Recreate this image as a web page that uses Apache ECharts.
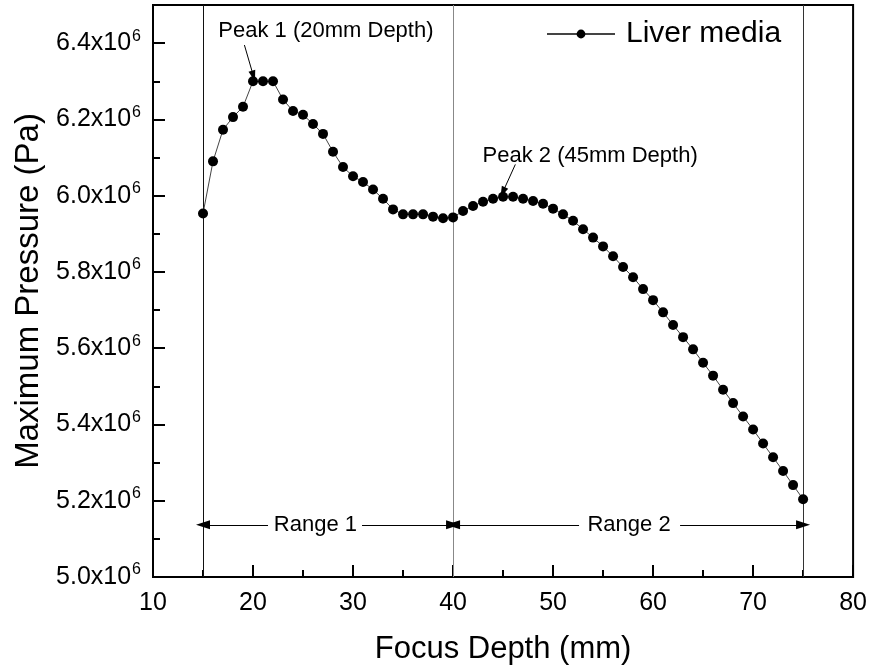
<!DOCTYPE html>
<html>
<head>
<meta charset="utf-8">
<script src="https://cdn.jsdelivr.net/npm/echarts@6/dist/echarts.min.js"></script>
<style>html,body{margin:0;padding:0;background:#fff}#c{width:870px;height:670px}</style>
</head>
<body>
<div id="c"></div>
<script>
// Focus depth (mm)
const depth = [15,16,17,18,19,20,21,22,23,24,25,26,27,28,29,30,31,32,33,34,35,36,37,38,39,40,
  41,42,43,44,45,46,47,48,49,50,51,52,53,54,55,56,57,58,59,60,61,62,63,64,65,66,67,68,69,70,
  71,72,73,74,75];
// Maximum pressure (x10^6 Pa)
const pressure = [5.953,6.090,6.173,6.206,6.233,6.300,6.300,6.300,6.252,6.222,6.212,6.188,6.162,6.115,
  6.075,6.051,6.036,6.016,5.992,5.964,5.951,5.951,5.951,5.945,5.941,5.943,5.960,5.973,5.984,5.992,
  5.997,5.997,5.992,5.986,5.979,5.966,5.951,5.934,5.912,5.890,5.867,5.841,5.813,5.786,5.755,5.726,
  5.694,5.661,5.629,5.597,5.562,5.528,5.491,5.456,5.421,5.387,5.350,5.314,5.278,5.241,5.204];
const seriesName = 'Liver media';
const xTicks = [10,20,30,40,50,60,70,80];
const yTicks = [5.0,5.2,5.4,5.6,5.8,6.0,6.2,6.4];
const rangeBounds = [15,40,75];
const rangeNames = ['Range 1','Range 2'];
const peakNames = ['Peak 1 (20mm Depth)','Peak 2 (45mm Depth)'];

const FONT = 'Liberation Sans';
const chart = echarts.init(document.getElementById('c'));

const rangeY = 5.137;
const thin = {color: '#000', width: 1, type: 'solid'};
const arrowSize = [9, 14];
const option = {
  backgroundColor: '#fff',
  animation: false,
  textStyle: {fontFamily: FONT, color: '#000'},
  grid: {left: 153, right: 15, top: 5, bottom: 91, show: true, borderColor: '#000', borderWidth: 2, backgroundColor: 'transparent'},
  legend: {
    data: [seriesName], left: 541, top: 14, itemWidth: 68, itemHeight: 11,
    textStyle: {fontSize: 30, fontFamily: FONT, color: '#000', padding: [0, 0, 0, 6]}
  },
  xAxis: [{
    type: 'value', min: 10, max: 80, interval: 10, position: 'bottom',
    name: 'Focus Depth (mm)', nameLocation: 'middle', nameGap: 57,
    nameTextStyle: {fontSize: 31, fontFamily: FONT, color: '#000'},
    axisLine: {show: true, lineStyle: {color: '#000', width: 2}},
    axisTick: {show: true, inside: true, length: 12, lineStyle: {color: '#000', width: 2}},
    axisLabel: {fontSize: 25, fontFamily: FONT, color: '#000', margin: 14,
      formatter: v => xTicks.includes(v) ? String(v) : ''},
    splitLine: {show: false}
  }, {
    type: 'value', min: 10, max: 80, interval: 5, position: 'bottom',
    axisLine: {show: false},
    axisTick: {show: true, inside: true, length: 7, lineStyle: {color: '#000', width: 2}},
    axisLabel: {show: false}, splitLine: {show: false}
  }],
  yAxis: [{
    type: 'value', min: 5.0, max: 6.5, interval: 0.2, position: 'left',
    name: 'Maximum Pressure (Pa)', nameLocation: 'middle', nameGap: 108,
    nameTextStyle: {fontSize: 33, fontFamily: FONT, color: '#000'},
    axisLine: {show: true, lineStyle: {color: '#000', width: 2}},
    axisTick: {show: true, inside: true, length: 12, lineStyle: {color: '#000', width: 2}},
    axisLabel: {
      margin: 12, fontFamily: FONT, color: '#000',
      formatter: v => {
        const t = yTicks.find(k => Math.abs(k - v) < 1e-6);
        return t === undefined ? '' : '{a|' + t.toFixed(1) + 'x10}{b|6}';
      },
      rich: {
        a: {fontSize: 25, fontFamily: FONT, color: '#000', lineHeight: 30},
        b: {fontSize: 16, fontFamily: FONT, color: '#000', verticalAlign: 'top', lineHeight: 16, padding: [0, 0, 0, 1]}
      }
    },
    splitLine: {show: false}
  }, {
    type: 'value', min: 5.0, max: 6.5, interval: 0.1, position: 'left',
    axisLine: {show: false},
    axisTick: {show: true, inside: true, length: 7, lineStyle: {color: '#000', width: 2}},
    axisLabel: {show: false}, splitLine: {show: false}
  }],
  series: [{
    name: seriesName, type: 'line',
    data: depth.map((d, i) => [d, pressure[i]]),
    symbol: 'circle', symbolSize: 10,
    itemStyle: {color: '#000'},
    lineStyle: {color: '#444', width: 1},
    z: 5
  }, {
    name: 'annot', type: 'line', data: [], silent: true,
    markLine: {
      silent: true, animation: false, symbol: ['none', 'none'],
      label: {show: false},
      data: [
        [{coord: [rangeBounds[0], 5.0], lineStyle: {color: '#111', width: 1, type: 'solid'}}, {coord: [rangeBounds[0], 6.5]}],
        [{coord: [rangeBounds[1], 5.0], lineStyle: {color: '#888', width: 1, type: 'solid'}}, {coord: [rangeBounds[1], 6.5]}],
        [{coord: [rangeBounds[2], 5.0], lineStyle: {color: '#333', width: 1, type: 'solid'}}, {coord: [rangeBounds[2], 6.5]}],
        // Range 1 arrows
        [{coord: [21.5, rangeY], symbol: 'none', lineStyle: thin}, {coord: [rangeBounds[0], rangeY], symbol: 'triangle', symbolSize: arrowSize}],
        [{coord: [30.9, rangeY], symbol: 'none', lineStyle: thin}, {coord: [rangeBounds[1], rangeY], symbol: 'triangle', symbolSize: arrowSize}],
        // Range 2 arrows
        [{coord: [52.6, rangeY], symbol: 'none', lineStyle: thin}, {coord: [rangeBounds[1], rangeY], symbol: 'triangle', symbolSize: arrowSize}],
        [{coord: [62.7, rangeY], symbol: 'none', lineStyle: thin}, {coord: [rangeBounds[2], rangeY], symbol: 'triangle', symbolSize: arrowSize}],
        // Peak arrows
        [{coord: [19.14, 6.395], symbol: 'none', lineStyle: thin}, {coord: [20.04, 6.314], symbol: 'triangle', symbolSize: [7, 11]}],
        [{coord: [46.23, 6.082], symbol: 'none', lineStyle: thin}, {coord: [44.97, 6.009], symbol: 'triangle', symbolSize: [7, 11]}]
      ]
    },
    markPoint: {
      silent: true, animation: false, symbol: 'circle', symbolSize: 1,
      itemStyle: {color: 'rgba(0,0,0,0)'},
      label: {show: true, position: 'inside', fontFamily: FONT, color: '#000', fontSize: 22},
      data: [
        {coord: [27.29, 6.432], label: {formatter: peakNames[0]}},
        {coord: [53.71, 6.103], label: {formatter: peakNames[1]}},
        {coord: [26.24, rangeY], label: {formatter: rangeNames[0]}},
        {coord: [57.6, rangeY], label: {formatter: rangeNames[1]}}
      ]
    }
  }]
};
chart.setOption(option);
</script>
</body>
</html>
